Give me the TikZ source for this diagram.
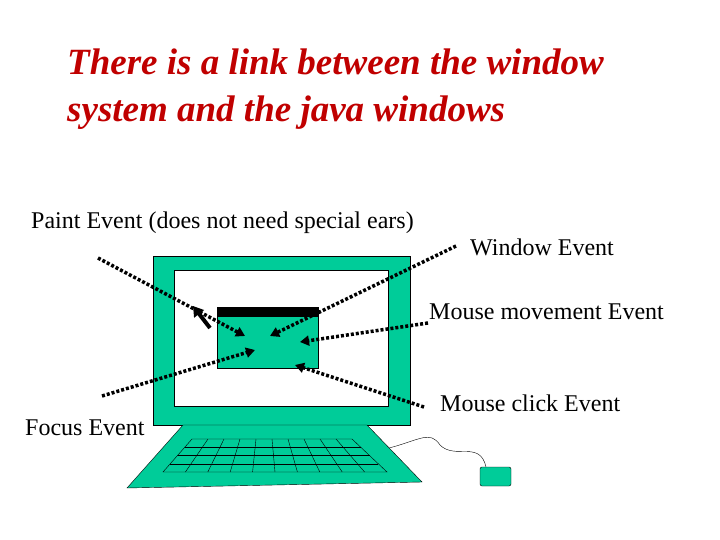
\documentclass[tikz,border=0pt]{standalone}
\usepackage{fontspec}
\setmainfont{Liberation Serif}
\usetikzlibrary{arrows.meta}
\definecolor{screen}{RGB}{0,204,153}
\definecolor{titlered}{RGB}{192,0,0}
\begin{document}
\begin{tikzpicture}[x=1pt,y=-1pt, lab/.style = {anchor=west, inner sep=0pt, font=\fontsize{24}{28}\selectfont},
  ev/.style = {line width=3.5pt, dash pattern=on 3pt off 2pt, -{Triangle[length=9pt,width=10pt]}}]
\useasboundingbox (0,0) rectangle (720,540);
% title
\node[anchor=west, inner sep=0pt, text=titlered, font=\fontsize{37}{47}\selectfont\bfseries\itshape, align=left] (title) at (67,89) {There is a link between the window\\system and the java windows};
% monitor
\draw[fill=screen] (153,256) rectangle (410,425);
\draw[fill=white] (174,270) rectangle (388,406);
\draw[fill=screen] (217,307) rectangle (318,368);
\fill (217,307) rectangle (318,317);
% keyboard
\draw[fill=screen] (183,425) -- (367,425) -- (422,482) -- (127,488) -- cycle;
\draw (192,439) -- (352,439) -- (387,472) -- (163,472) -- cycle;
\foreach \t in {0.25,0.5,0.75} \draw ({192-29*\t},{439+33*\t}) -- ({352+35*\t},{439+33*\t});
\foreach \i in {1,...,9} \draw ({192+16*\i},439) -- ({163+22.4*\i},472);
% mouse
\draw[fill=screen, rounded corners=2pt] (480,467) rectangle (511,486);
\draw (389,448) .. controls (420,440) and (430,430) .. (440,445) .. controls (455,460) and (480,440) .. (486,467);
% labels
\node[lab] (paint) at (31,223) {Paint Event (does not need special ears)};
\node[lab] (wev) at (470,247) {Window Event};
\node[lab] (mmov) at (429,312) {Mouse movement Event};
\node[lab] (mclick) at (440,403) {Mouse click Event};
\node[lab] (focus) at (25,428) {Focus Event};
% arrows
\coordinate (p0) at (98,258); \coordinate (p1) at (245,336);
\coordinate (w0) at (456,246); \coordinate (w1) at (270,336);
\coordinate (m0) at (428,323); \coordinate (m1) at (300,342);
\coordinate (f0) at (102,396); \coordinate (f1) at (255,350);
\coordinate (c0) at (424,407); \coordinate (c1) at (295,365);
\draw[ev] (p0) -- (p1);
\draw[ev] (w0) -- (w1);
\draw[ev] (m0) -- (m1);
\draw[ev] (f0) -- (f1);
\draw[ev] (c0) -- (c1);
\coordinate (s0) at (210,328); \coordinate (s1) at (193,306);
\draw[line width=4pt, -{Triangle[length=10pt,width=12pt]}] (s0) -- (s1);
\end{tikzpicture}
\end{document}
